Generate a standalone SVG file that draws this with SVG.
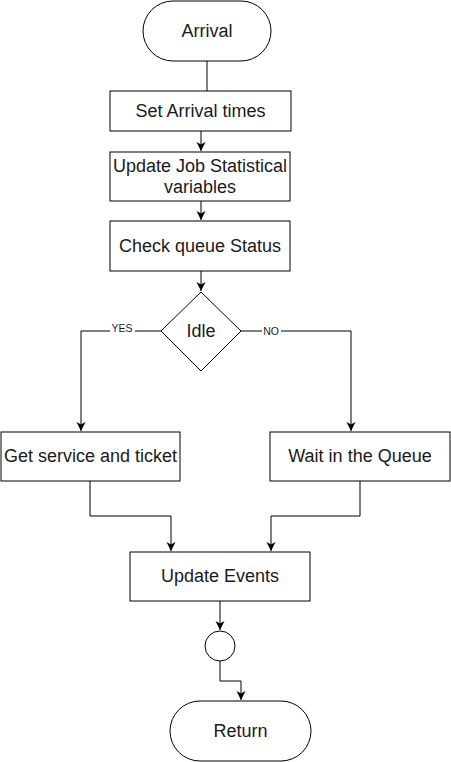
<svg xmlns="http://www.w3.org/2000/svg" width="451" height="762" viewBox="0 0 451 762">
<style>
.s{fill:#fff;stroke:#000;stroke-width:1}
.tx{font-family:"Liberation Sans",Arial,sans-serif;font-size:18px;fill:#1a1a1a;text-anchor:middle}
.lb{font-family:"Liberation Sans",Arial,sans-serif;font-size:10.5px;fill:#1a1a1a;text-anchor:middle}
.c{fill:none;stroke:#000;stroke-width:1}
</style>
<defs>
<marker id="a" markerWidth="12" markerHeight="12" refX="10" refY="6" orient="auto" markerUnits="userSpaceOnUse">
<path d="M1,1.5 L10,6 L1,10.5 L3.5,6 Z" fill="#000"/>
</marker>
</defs>
<rect width="451" height="762" fill="#fff"/>
<g id="connectors">
<path class="c" d="M207,61 V91"/>
<path class="c" d="M201,131 V151" marker-end="url(#a)"/>
<path class="c" d="M201,201 V220" marker-end="url(#a)"/>
<path class="c" d="M201,271 V291" marker-end="url(#a)"/>
<path class="c" d="M161,331 H81 V431" marker-end="url(#a)"/>
<path class="c" d="M241,331 H351 V431" marker-end="url(#a)"/>
<path class="c" d="M90,481 V516 H171 V551" marker-end="url(#a)"/>
<path class="c" d="M360,481 V516 H271 V551" marker-end="url(#a)"/>
<path class="c" d="M220,601 V630" marker-end="url(#a)"/>
<path class="c" d="M220,661 V681 H241 V700" marker-end="url(#a)"/>
<rect x="110" y="323" width="25" height="11" fill="#fff"/>
<text class="lb" x="122" y="332">YES</text>
<rect x="262" y="326" width="19" height="11" fill="#fff"/>
<text class="lb" x="271" y="335">NO</text>
</g>
<g id="arrival">
<rect class="s" x="143" y="1" width="128" height="60" rx="30" ry="30" stroke-width="2"/>
<text class="tx" x="207" y="37">Arrival</text>
</g>
<g id="set-arrival">
<rect class="s" x="110" y="91" width="181" height="40"/>
<text class="tx" x="200.5" y="117">Set Arrival times</text>
</g>
<g id="update-job">
<rect class="s" x="110" y="152" width="180" height="49"/>
<text class="tx" x="200" y="172">Update Job Statistical</text>
<text class="tx" x="200" y="193">variables</text>
</g>
<g id="check-queue">
<rect class="s" x="110" y="221" width="180" height="50"/>
<text class="tx" x="200" y="252">Check queue Status</text>
</g>
<g id="idle">
<path class="s" d="M201,292 L241,331 L201,371 L161,331 Z"/>
<text class="tx" x="201" y="337">Idle</text>
</g>
<g id="get-service">
<rect class="s" x="1" y="432" width="179" height="49"/>
<text class="tx" x="90.5" y="462">Get service and ticket</text>
</g>
<g id="wait-queue">
<rect class="s" x="270" y="432" width="180" height="49"/>
<text class="tx" x="360" y="462">Wait in the Queue</text>
</g>
<g id="update-events">
<rect class="s" x="130" y="552" width="180" height="49"/>
<text class="tx" x="220" y="582">Update Events</text>
</g>
<g id="junction">
<circle class="s" cx="220" cy="646" r="15"/>
</g>
<g id="return">
<rect class="s" x="170" y="701" width="141" height="60" rx="30" ry="30" stroke-width="2"/>
<text class="tx" x="240.5" y="737">Return</text>
</g>
</svg>
